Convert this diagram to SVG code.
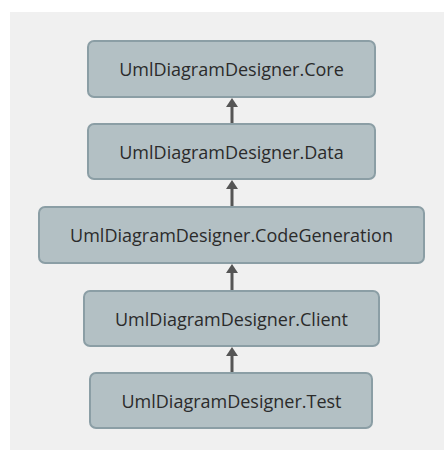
<svg xmlns="http://www.w3.org/2000/svg" width="444" height="450" viewBox="0 0 444 450">
<style>
.box{fill:#b3c0c4;stroke:#8b9ea5;stroke-width:2}
.lbl{font-family:"Open Sans","Noto Sans",sans-serif;font-size:18px;fill:#2b2b2b;text-anchor:middle;dominant-baseline:central}
.edge{stroke:#555;stroke-width:3;fill:none;marker-end:url(#arr)}
</style>
<defs>
<marker id="arr" markerWidth="9" markerHeight="12" refX="1" refY="6" orient="auto" markerUnits="userSpaceOnUse" viewBox="0 0 9 12">
<path d="M0,0 L9,6 L0,12 Z" fill="#555"/>
</marker>
</defs>
<rect x="0" y="0" width="444" height="450" fill="#ffffff"/>
<rect x="10" y="12" width="434" height="438" fill="#f0f0f0"/>
<g id="connectors">
<line class="edge" x1="232" y1="123" x2="232" y2="106"/>
<line class="edge" x1="232" y1="207" x2="232" y2="188"/>
<line class="edge" x1="232" y1="290" x2="232" y2="272"/>
<line class="edge" x1="232" y1="373" x2="232" y2="355"/>
</g>
<g id="core"><rect class="box" x="88" y="41" width="287" height="56" rx="6"/><text class="lbl" x="231.5" y="69">UmlDiagramDesigner.Core</text></g>
<g id="data"><rect class="box" x="88" y="124" width="287" height="55" rx="6"/><text class="lbl" x="231.5" y="151.5">UmlDiagramDesigner.Data</text></g>
<g id="codegen"><rect class="box" x="39" y="207" width="385" height="56" rx="6"/><text class="lbl" x="231.5" y="235">UmlDiagramDesigner.CodeGeneration</text></g>
<g id="client"><rect class="box" x="84" y="291" width="295" height="55" rx="6"/><text class="lbl" x="231.5" y="318.5">UmlDiagramDesigner.Client</text></g>
<g id="test"><rect class="box" x="90" y="373" width="282" height="55" rx="6"/><text class="lbl" x="231.5" y="400.5">UmlDiagramDesigner.Test</text></g>
</svg>
